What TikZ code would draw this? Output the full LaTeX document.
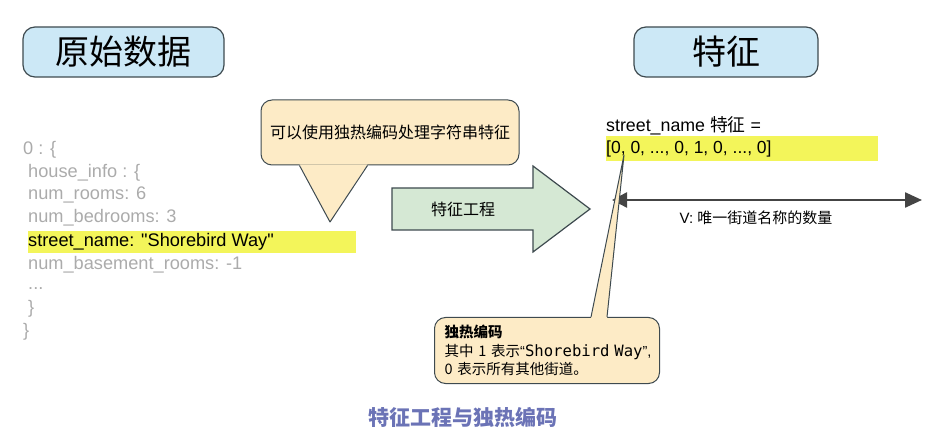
\documentclass[tikz,border=0pt]{standalone}
\usepackage{fontspec}
\setmainfont{Liberation Sans}
\setmonofont{DejaVu Sans Mono}
\newfontfamily\cjkfont{Noto Sans CJK SC}
\usepackage{tikz}
\usetikzlibrary{positioning, arrows.meta}
\usepackage{xcolor}

\definecolor{titleblue}{HTML}{CCE8F6}
\definecolor{boxline}{HTML}{3E4A4F}
\definecolor{notecream}{HTML}{FDEBC6}
\definecolor{arrowgreen}{HTML}{D5E8D4}
\definecolor{markyellow}{HTML}{F3F55A}
\definecolor{codegray}{HTML}{ABABAB}
\definecolor{dimgray}{HTML}{444444}
\definecolor{captionblue}{HTML}{6B73B6}

\tikzset{
  titlebox/.style={draw=boxline, fill=titleblue, line width=1.2pt, rounded corners=12pt,
    minimum width=201pt, minimum height=50pt, font=\cjkfont\fontsize{34}{34}\selectfont},
  codeline/.style={anchor=west, inner sep=0pt, text=codegray, font=\fontsize{18.2}{20}\selectfont},
  hilite/.style={fill=markyellow},
  notebox/.style={draw=boxline, fill=notecream, line width=1pt, rounded corners=11pt},
  notefill/.style={fill=notecream},
  noteline/.style={draw=boxline, line width=1pt, line join=round},
  flowarrow/.style={draw=boxline, fill=arrowgreen, line width=1.2pt},
  dimline/.style={draw=dimgray, line width=2.4pt, {Triangle[length=15pt,width=15pt]}-{Triangle[length=17pt,width=15pt]}}
}

\begin{document}
\begin{tikzpicture}[x=1pt, y=-1pt]
    \useasboundingbox (0,0) rectangle (942,443);

    % titles
    \node[titlebox] (raw) at (123.5,52) {原始数据};
    \node[titlebox, minimum width=184pt] (feat) at (726,52) {特征};

    % raw record
    \fill[hilite] (28,231) rectangle (356,253);
    \node[codeline] (c0) at (23,150) {0 : \{};
    \node[codeline] (c1) at (28,173) {house\_info : \{};
    \node[codeline] (c2) at (28,195) {num\_rooms: 6};
    \node[codeline] (c3) at (28,218) {num\_bedrooms: 3};
    \node[codeline, text=black] (c4) at (28,242) {street\_name: \textquotedbl Shorebird Way\textquotedbl};
    \node[codeline] (c5) at (28,265) {num\_basement\_rooms: -1};
    \node[codeline] (c6) at (28,289) {...};
    \node[codeline] (c7) at (28,309) {\}};
    \node[codeline] (c8) at (23,332) {\}};

    % hint callout
    \node[notebox, minimum width=258pt, minimum height=65pt,
      font=\cjkfont\fontsize{16}{16}\selectfont] (hint) at (390,132.5) {可以使用独热编码处理字符串特征};
    \coordinate (hinttip) at (330,222);
    \fill[notefill] ([xshift=39pt, yshift=1.2pt]hint.south west) -- (hinttip)
      -- ([xshift=107pt, yshift=1.2pt]hint.south west) -- cycle;
    \draw[noteline] ([xshift=39pt]hint.south west) -- (hinttip) -- ([xshift=107pt]hint.south west);

    % feature engineering arrow
    \draw[flowarrow] (392,188) -- (533,188) -- (533,166) -- (590,209)
      -- (533,252) -- (533,230) -- (392,230) -- cycle;
    \node[font=\cjkfont\fontsize{16}{16}\selectfont] (fe) at (463,209) {特征工程};

    % feature vector
    \fill[hilite] (606,136) rectangle (878,161);
    \node[codeline, text=black, font=\fontsize{17.8}{20}\selectfont] (fname) at (606,126) {street\_name {\cjkfont 特征} =};
    \node[codeline, text=black, font=\fontsize{17.5}{20}\selectfont] (fvec) at (606,149) {[0, 0, ..., 0, 1, 0, ..., 0]};

    \coordinate (vleft) at (612,200);
    \coordinate (vright) at (922,200);
    \draw[dimline] (vleft) -- (vright);
    \node[font=\fontsize{15}{15}\selectfont] (vlabel) at (756,218) {V: {\cjkfont 唯一街道名称的数量}};

    % one-hot callout
    \node[notebox, anchor=north west, text width=205pt, inner xsep=10pt, minimum height=66pt,
      align=left, font=\cjkfont\fontsize{14.5}{18.5}\selectfont] (note) at (434,317)
      {{\bfseries 独热编码}\\
       \mbox{其中 1 表示{\rmfamily “}{\ttfamily\fontsize{15.6}{18.5}\selectfont Shorebird Way}{\rmfamily ”,}}\\
       0 表示所有其他街道。};
    \coordinate (notetip) at (624,155);
    \fill[notefill] ([xshift=157pt, yshift=-1.2pt]note.north west) -- (notetip)
      -- ([xshift=173pt, yshift=-1.2pt]note.north west) -- cycle;
    \draw[noteline] ([xshift=157pt]note.north west) -- (notetip) -- ([xshift=173pt]note.north west);

    \node[font=\cjkfont\bfseries\fontsize{21}{21}\selectfont, text=captionblue] (caption) at (463,417) {特征工程与独热编码};
\end{tikzpicture}
\end{document}
